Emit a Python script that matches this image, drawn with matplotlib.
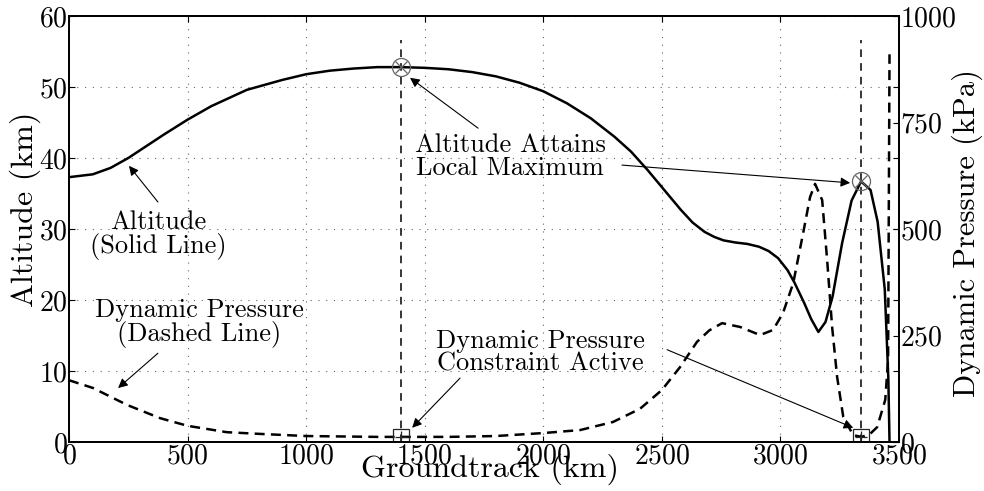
import matplotlib
matplotlib.use("Agg")
import matplotlib.pyplot as plt

plt.rcParams['font.family'] = ['cmr10', 'DejaVu Serif']
plt.rcParams['mathtext.fontset'] = 'cm'
plt.rcParams['axes.formatter.use_mathtext'] = True

# ---- data ----
alt_x = [0, 100, 175, 250, 300, 400, 500, 600, 750, 900, 1000, 1100, 1200, 1300,
         1400, 1500, 1600, 1700, 1800, 1900, 2000, 2100, 2200, 2300, 2370, 2440,
         2510, 2580, 2630, 2680, 2720, 2760, 2810, 2860, 2910, 2950, 2990, 3030,
         3060, 3100, 3130, 3160, 3190, 3220, 3260, 3300, 3340, 3380, 3410, 3440,
         3455, 3460]
alt_km = [37.3, 37.7, 38.6, 40.0, 41.1, 43.3, 45.4, 47.3, 49.6, 51.0, 51.8, 52.3,
          52.6, 52.8, 52.8, 52.7, 52.5, 52.1, 51.5, 50.6, 49.4, 47.7, 45.6, 43.0,
          40.9, 38.3, 35.5, 32.7, 30.9, 29.6, 28.9, 28.4, 28.1, 27.9, 27.5, 26.9,
          25.9, 24.2, 22.4, 19.6, 17.3, 15.5, 16.9, 20.5, 28.0, 34.0, 36.7, 35.5,
          31.0, 21.5, 9.0, 0.0]

dp_x = [0, 100, 245, 384, 500, 666, 805, 1000, 1300, 1400, 1600, 1800, 2000, 2155,
        2294, 2408, 2500, 2577, 2648, 2700, 2754, 2830, 2914, 2969, 3011, 3054,
        3096, 3125, 3146, 3176, 3197, 3218, 3239, 3265, 3307, 3343, 3380, 3408,
        3442, 3454, 3460]
dp_kpa = [145, 127, 87, 56, 38, 23, 19, 14, 12, 12, 12, 14, 21, 28, 47, 78, 122,
          176, 235, 262, 279, 270, 251, 263, 303, 373, 491, 575, 606, 568, 427,
          270, 153, 59, 16, 12, 20, 35, 99, 192, 910]

# points of interest
max_x = [1400, 3340]
max_alt = [52.8, 36.7]
con_x = [1400, 3340]
con_kpa = [12, 12]
marker_top_km = 56.6

x_ticks = [0, 500, 1000, 1500, 2000, 2500, 3000, 3500]
alt_ticks = [0, 10, 20, 30, 40, 50, 60]
dp_ticks = [0, 250, 500, 750, 1000]

# ---- figure ----
fig = plt.figure(figsize=(9.84, 4.91), dpi=100)
ax = fig.add_axes([69/984, 49/491, 830/984, 426/491])
ax2 = ax.twinx()

ax.plot(alt_x, alt_km, color='black', lw=1.8, solid_capstyle='butt',
        solid_joinstyle='round')
ax2.plot(dp_x, dp_kpa, color='black', lw=1.8, linestyle=(0, (4, 2.5)))

for xv in max_x:
    ax.plot([xv, xv], [0, marker_top_km], color='black', lw=1.1,
            linestyle=(0, (5, 4)))

ax.plot(max_x, max_alt, linestyle='none', marker='o', ms=13, mfc='none',
        mec='0.4', mew=0.9)
ax.plot(max_x, max_alt, linestyle='none', marker='x', ms=9, mec='0.4', mew=0.9)
ax2.plot(con_x, con_kpa, linestyle='none', marker='s', ms=12, mfc='none',
         mec='0.15', mew=0.9)
ax2.plot(con_x, con_kpa, linestyle='none', marker='+', ms=8, mec='0.15', mew=0.9)

ax.set_xlim(0, 3500)
ax.set_ylim(0, 60)
ax2.set_ylim(0, 1000)
ax.set_xticks(x_ticks)
ax.set_yticks(alt_ticks)
ax2.set_yticks(dp_ticks)

ax.grid(True, linestyle=(0, (1, 6)), color='0.4', lw=0.8)
ax.tick_params(direction='in', length=4, width=0.8, labelsize=20, pad=1,
               top=True, right=True)
ax2.tick_params(direction='in', length=4, width=0.8, labelsize=20, pad=1)
for a in (ax, ax2):
    for s in a.spines.values():
        s.set_linewidth(1.3)

ax.set_xlabel('Groundtrack (km)', fontsize=23, va='center')
ax.set_ylabel('Altitude (km)', fontsize=23, va='center')
ax2.set_ylabel('Dynamic Pressure (kPa)', fontsize=22, va='center')
ax.xaxis.set_label_coords(0.507, -0.065)
ax.yaxis.set_label_coords(-0.053, 0.547)
ax2.yaxis.set_label_coords(1.082, 0.49)

fs = 19
arrow = dict(arrowstyle='-|>', color='black', lw=0.8, mutation_scale=14,
             shrinkA=0, shrinkB=0)
ax.text(375, 29.1, 'Altitude\n(Solid Line)', ha='center', va='center',
        fontsize=fs, linespacing=0.95)
ax.annotate('', xy=(253, 38.9), xytext=(375, 33.8), arrowprops=arrow)
ax.text(548, 16.7, 'Dynamic Pressure\n(Dashed Line)', ha='center', va='center',
        fontsize=fs, linespacing=0.95)
ax.annotate('', xy=(207, 7.6), xytext=(375, 12.5), arrowprops=arrow)
ax.text(1860, 40.2, 'Altitude Attains\nLocal Maximum', ha='center', va='center',
        fontsize=fs, linespacing=0.95)
ax.annotate('', xy=(1438, 51.3), xytext=(1725, 44.2), arrowprops=arrow)
ax.annotate('', xy=(3294, 36.5), xytext=(2332, 39.0), arrowprops=arrow)
ax.text(1987, 12.6, 'Dynamic Pressure\nConstraint Active', ha='center',
        va='center', fontsize=fs, linespacing=0.95)
ax.annotate('', xy=(1447, 2.0), xytext=(1649, 9.0), arrowprops=arrow)
ax.annotate('', xy=(3307, 2.0), xytext=(2522, 13.0), arrowprops=arrow)

fig.savefig('out.png', dpi=100)
